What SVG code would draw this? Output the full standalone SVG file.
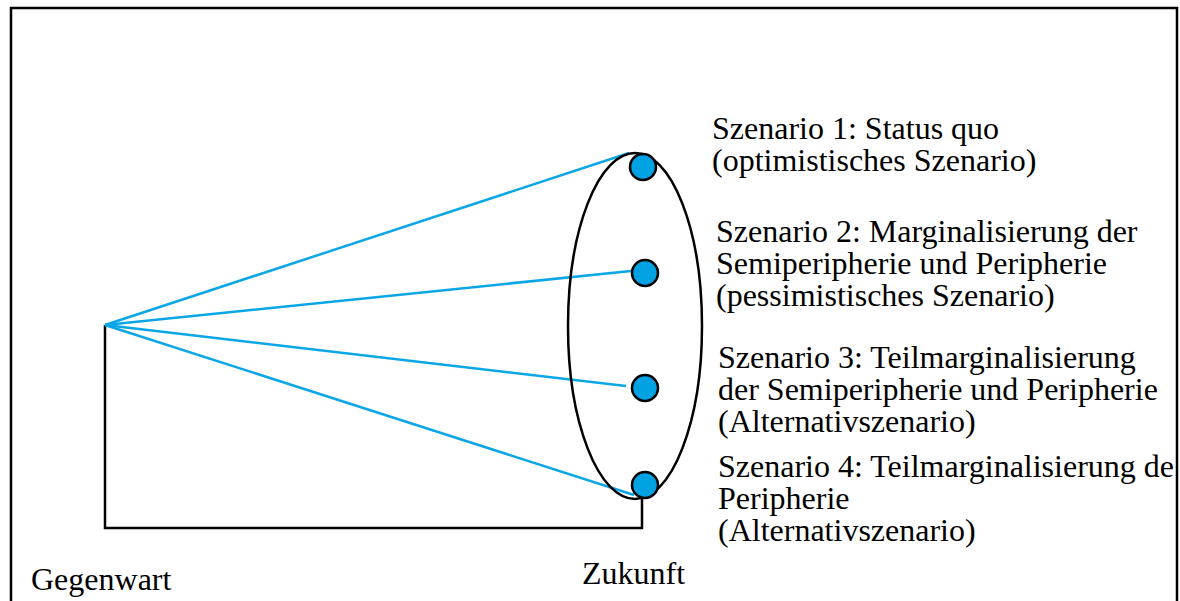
<svg xmlns="http://www.w3.org/2000/svg" width="1180" height="601" viewBox="0 0 1180 601">
<style>
text{font-family:"Liberation Serif","Times New Roman",serif;font-size:32px;fill:#000}
.ray{stroke:#0aa6e6;stroke-width:2.5;fill:none}
.blk{stroke:#000;stroke-width:2.5;fill:none}
.dot{fill:#00a2e2;stroke:#000;stroke-width:2.5}
</style>
<rect width="1180" height="601" fill="#fff"/>
<path class="blk" d="M11,601 V8 H1177 V601"/>
<g id="connectors">
<path class="blk" d="M105,325 V528 H642 V497"/>
<line class="ray" x1="105" y1="325" x2="629" y2="153"/>
<line class="ray" x1="105" y1="325" x2="631" y2="271"/>
<line class="ray" x1="105" y1="325" x2="626" y2="386"/>
<line class="ray" x1="105" y1="325" x2="634" y2="495"/>
</g>
<g id="future-ellipse"><ellipse class="blk" cx="635" cy="326" rx="67" ry="173"/></g>
<g id="s1"><circle class="dot" cx="643" cy="167" r="13"/>
<text x="712" y="139">Szenario 1: Status quo</text><text x="712" y="171">(optimistisches Szenario)</text></g>
<g id="s2"><circle class="dot" cx="645" cy="273" r="13"/>
<text x="716" y="242">Szenario 2: Marginalisierung der</text><text x="716" y="274">Semiperipherie und Peripherie</text><text x="716" y="306">(pessimistisches Szenario)</text></g>
<g id="s3"><circle class="dot" cx="645" cy="388" r="13"/>
<text x="718" y="368">Szenario 3: Teilmarginalisierung</text><text x="718" y="400">der Semiperipherie und Peripherie</text><text x="718" y="432">(Alternativszenario)</text></g>
<g id="s4"><circle class="dot" cx="645" cy="485" r="13"/>
<text x="718" y="477">Szenario 4: Teilmarginalisierung de</text><text x="718" y="509">Peripherie</text><text x="718" y="541">(Alternativszenario)</text></g>
<g id="gegenwart"><text x="31" y="590">Gegenwart</text></g>
<g id="zukunft"><text x="582" y="584">Zukunft</text></g>
</svg>
